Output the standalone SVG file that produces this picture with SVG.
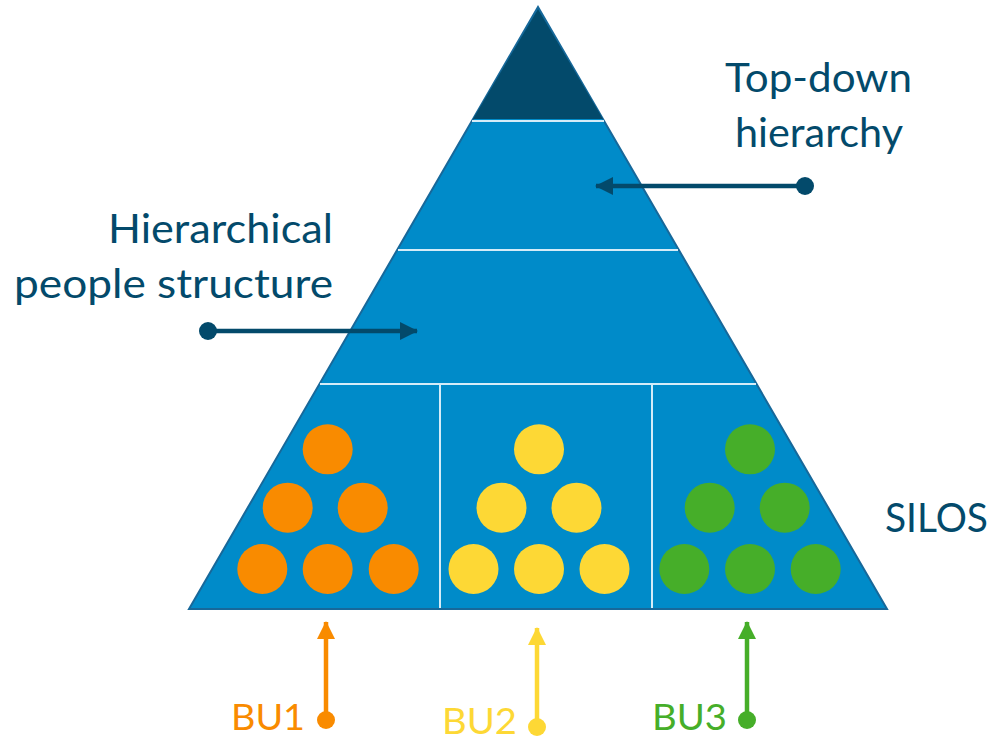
<svg xmlns="http://www.w3.org/2000/svg" width="994" height="741" viewBox="0 0 994 741">
<style>
.lbl{font-family:"Lato","Open Sans","Liberation Sans",sans-serif;fill:#034A6B;}
.bu{font-family:"Lato","Open Sans","Liberation Sans",sans-serif;font-size:36px;}
.sep{stroke:#D4ECF8;stroke-width:2;fill:none;}
.o{fill:#F98B00;} .y{fill:#FDD835;} .g{fill:#46AE29;}
.conn{stroke-width:4.5;fill:none;}
</style>
<defs>
<marker id="headDark" markerUnits="userSpaceOnUse" viewBox="0 0 18 18" refX="17" refY="9" markerWidth="18" markerHeight="18" orient="auto"><path d="M0,0 L18,9 L0,18 Z" fill="#034A6B"/></marker>
<marker id="dotDark" markerUnits="userSpaceOnUse" viewBox="0 0 20 20" refX="10" refY="10" markerWidth="20" markerHeight="20"><circle cx="10" cy="10" r="9" fill="#034A6B"/></marker>
<marker id="headO" markerUnits="userSpaceOnUse" viewBox="0 0 18 18" refX="17" refY="9" markerWidth="18" markerHeight="18" orient="auto"><path d="M0,0 L18,9 L0,18 Z" fill="#F98B00"/></marker>
<marker id="dotO" markerUnits="userSpaceOnUse" viewBox="0 0 20 20" refX="10" refY="10" markerWidth="20" markerHeight="20"><circle cx="10" cy="10" r="9" fill="#F98B00"/></marker>
<marker id="headY" markerUnits="userSpaceOnUse" viewBox="0 0 18 18" refX="17" refY="9" markerWidth="18" markerHeight="18" orient="auto"><path d="M0,0 L18,9 L0,18 Z" fill="#FDD835"/></marker>
<marker id="dotY" markerUnits="userSpaceOnUse" viewBox="0 0 20 20" refX="10" refY="10" markerWidth="20" markerHeight="20"><circle cx="10" cy="10" r="9" fill="#FDD835"/></marker>
<marker id="headG" markerUnits="userSpaceOnUse" viewBox="0 0 18 18" refX="17" refY="9" markerWidth="18" markerHeight="18" orient="auto"><path d="M0,0 L18,9 L0,18 Z" fill="#46AE29"/></marker>
<marker id="dotG" markerUnits="userSpaceOnUse" viewBox="0 0 20 20" refX="10" refY="10" markerWidth="20" markerHeight="20"><circle cx="10" cy="10" r="9" fill="#46AE29"/></marker>
</defs>
<rect width="994" height="741" fill="#FFFFFF"/>

<g id="pyramid">
<polygon points="189,609 538,7 887,609" fill="#008BC9" stroke="#17689A" stroke-width="2" stroke-linejoin="miter"/>
<polygon id="top-tier" points="538,9 603,119 473,119" fill="#034A6B"/>
<line class="sep" x1="472" y1="121" x2="604" y2="121"/>
<line class="sep" x1="398" y1="250" x2="678" y2="250"/>
<line class="sep" x1="320" y1="384" x2="756" y2="384"/>
<line class="sep" x1="440" y1="385" x2="440" y2="608"/>
<line class="sep" x1="652" y1="385" x2="652" y2="608"/>
</g>

<g id="silo-bu1">
<circle class="o" cx="327.7" cy="449.3" r="25"/>
<circle class="o" cx="287.7" cy="507.7" r="25"/>
<circle class="o" cx="362.7" cy="507.7" r="25"/>
<circle class="o" cx="262.3" cy="569" r="25"/>
<circle class="o" cx="327.7" cy="569" r="25"/>
<circle class="o" cx="393.7" cy="569" r="25"/>
</g>
<g id="silo-bu2">
<circle class="y" cx="539" cy="449.3" r="25"/>
<circle class="y" cx="501.5" cy="507.7" r="25"/>
<circle class="y" cx="576.5" cy="507.7" r="25"/>
<circle class="y" cx="473.5" cy="569" r="25"/>
<circle class="y" cx="539" cy="569" r="25"/>
<circle class="y" cx="604.5" cy="569" r="25"/>
</g>
<g id="silo-bu3">
<circle class="g" cx="750" cy="449.3" r="25"/>
<circle class="g" cx="709.7" cy="507.7" r="25"/>
<circle class="g" cx="784.7" cy="507.7" r="25"/>
<circle class="g" cx="684.3" cy="569" r="25"/>
<circle class="g" cx="750" cy="569" r="25"/>
<circle class="g" cx="815.7" cy="569" r="25"/>
</g>

<g id="label-topdown">
<text class="lbl" x="725" y="92" font-size="40" textLength="187" lengthAdjust="spacingAndGlyphs">Top-down</text>
<text class="lbl" x="735" y="147" font-size="40" textLength="168" lengthAdjust="spacingAndGlyphs">hierarchy</text>
</g>
<g id="label-hierarchical">
<text class="lbl" x="108" y="243" font-size="40" textLength="225" lengthAdjust="spacingAndGlyphs">Hierarchical</text>
<text class="lbl" x="14" y="298" font-size="40" textLength="319" lengthAdjust="spacingAndGlyphs">people structure</text>
</g>
<g id="label-silos">
<text class="lbl" x="885" y="532" font-size="40" textLength="103" lengthAdjust="spacingAndGlyphs">SILOS</text>
</g>
<g id="label-bu">
<text class="bu" x="231" y="730" fill="#F98B00" textLength="74" lengthAdjust="spacingAndGlyphs">BU1</text>
<text class="bu" x="442" y="734" fill="#FDD835" textLength="75" lengthAdjust="spacingAndGlyphs">BU2</text>
<text class="bu" x="652" y="730" fill="#46AE29" textLength="75" lengthAdjust="spacingAndGlyphs">BU3</text>
</g>

<g id="connectors">
<line class="conn" stroke="#034A6B" x1="805" y1="186" x2="596" y2="186" marker-start="url(#dotDark)" marker-end="url(#headDark)"/>
<line class="conn" stroke="#034A6B" x1="208" y1="331" x2="417" y2="331" marker-start="url(#dotDark)" marker-end="url(#headDark)"/>
<line class="conn" stroke="#F98B00" x1="326" y1="720" x2="326" y2="622" marker-start="url(#dotO)" marker-end="url(#headO)"/>
<line class="conn" stroke="#FDD835" x1="537" y1="727" x2="537" y2="628" marker-start="url(#dotY)" marker-end="url(#headY)"/>
<line class="conn" stroke="#46AE29" x1="747" y1="720" x2="747" y2="622" marker-start="url(#dotG)" marker-end="url(#headG)"/>
</g>
</svg>
